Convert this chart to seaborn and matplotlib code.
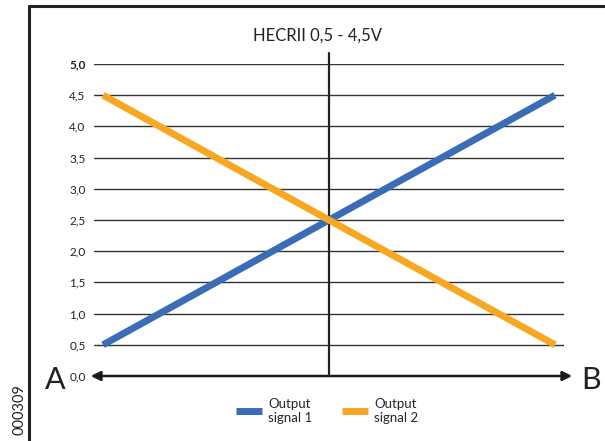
import pandas as pd
import seaborn as sns
import matplotlib.pyplot as plt
from matplotlib.lines import Line2D

# data
position = [0.0, 1.0]
signal_1 = [0.5, 4.5]
signal_2 = [4.5, 0.5]
series_names = ['Output\nsignal 1', 'Output\nsignal 2']
y_ticks = [0.0, 0.5, 1.0, 1.5, 2.0, 2.5, 3.0, 3.5, 4.0, 4.5, 5.0]
y_labels = ['0,0', '0,5', '1,0', '1,5', '2,0', '2,5', '3,0', '3,5', '4,0', '4,5', '5,0']
title = 'HECRII 0,5 - 4,5V'

df = pd.DataFrame({
    'pos': position + position,
    'volt': signal_1 + signal_2,
    'signal': [series_names[0]] * 2 + [series_names[1]] * 2,
})

sns.set_style('white')
plt.rcParams['font.family'] = ['Lato', 'DejaVu Sans']

fig = plt.figure(figsize=(6.05, 4.41), dpi=100)
ax = fig.add_axes([94 / 605, 1 - 376 / 441, 470 / 605, 312 / 441])

# grid lines
for t in y_ticks[1:]:
    ax.axhline(t, color='#333333', lw=1.0, zorder=1)

sns.lineplot(data=df, x='pos', y='volt', hue='signal',
             palette=['#3a6db5', '#f7a823'], lw=5, ax=ax, zorder=3,
             solid_capstyle='butt')

ax.set_xlim(-0.02, 1.02)
ax.set_ylim(0, 5)
for s in ax.spines.values():
    s.set_visible(False)
ax.set_xticks([])
ax.set_yticks(y_ticks, y_labels)
ax.tick_params(axis='y', length=0, pad=6, labelsize=8.5, labelcolor='#222222')
ax.get_yticklabels()[-1].set_fontweight('bold')
ax.set_xlabel('')
ax.set_ylabel('')

# centre vertical line
ax.plot([0.5, 0.5], [0, 5.18], color='#222222', lw=1.6, clip_on=False, zorder=2)

# horizontal double arrow axis
ax.annotate('', xy=(1.038, 0), xytext=(-0.027, 0),
            arrowprops=dict(arrowstyle='<|-|>', color='#1a1a1a', lw=1.8,
                            mutation_scale=14, shrinkA=0, shrinkB=0),
            annotation_clip=False, zorder=4)

ax.text(0.5 - 0.025, 5.45, title, ha='center', va='center', fontsize=12,
        color='#222222')

fig.text(55 / 605, 1 - 380 / 441, 'A', fontsize=22, ha='center', va='center', color='#222222')
fig.text(591 / 605, 1 - 380 / 441, 'B', fontsize=22, ha='center', va='center', color='#222222')
fig.text(20 / 605, 1 - 410 / 441, '000309', fontsize=10.5, rotation=90,
         ha='center', va='center', color='#222222')

# frame
fig.add_artist(Line2D([29 / 605, 29 / 605], [0, 1 - 6 / 441], color='#222222', lw=2.2))
fig.add_artist(Line2D([29 / 605, 1], [1 - 6 / 441, 1 - 6 / 441], color='#222222', lw=2.2))

handles, labels = ax.get_legend_handles_labels()
ax.legend(handles, labels, loc='center', bbox_to_anchor=(327 / 605, 1 - 411 / 441),
          bbox_transform=fig.transFigure, ncol=2, frameon=False, fontsize=9.5,
          handlelength=2.0, handletextpad=0.45, columnspacing=2.2)

fig.savefig('out.png', dpi=100)
